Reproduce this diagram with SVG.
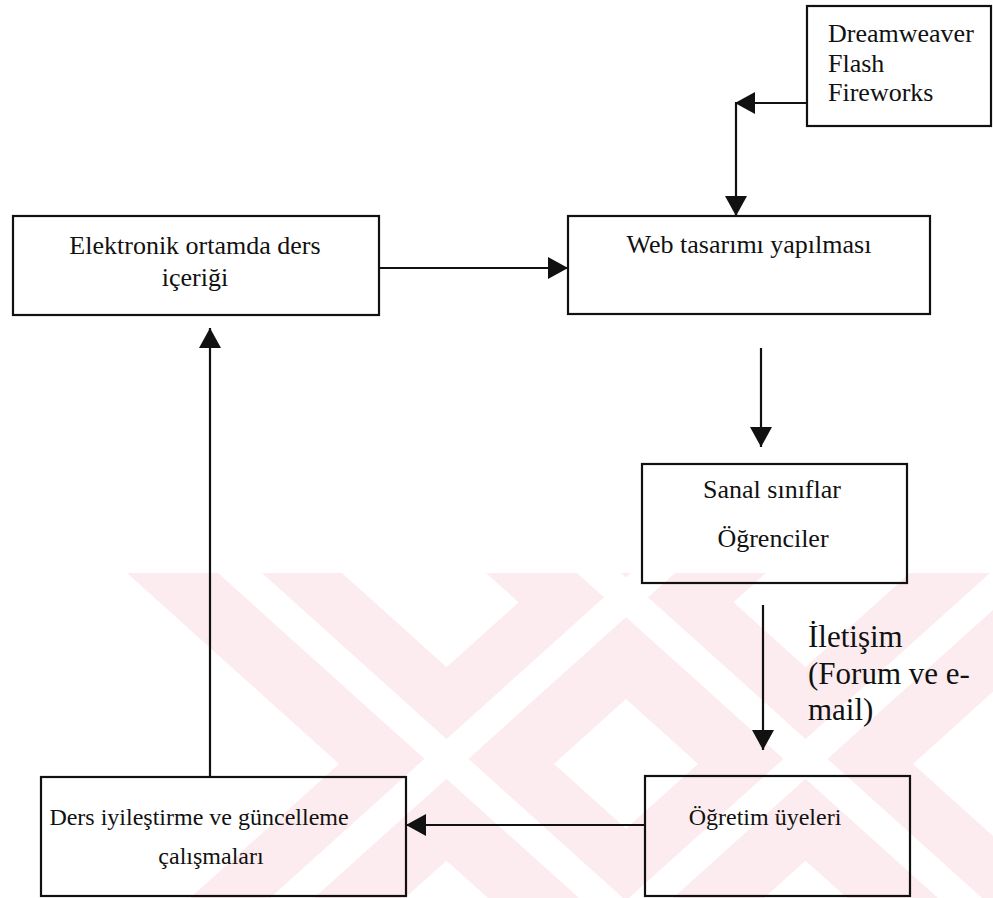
<svg xmlns="http://www.w3.org/2000/svg" width="993" height="898" viewBox="0 0 993 898">
<style>
.box{fill:none;stroke:#111;stroke-width:2.2}
.ln{fill:none;stroke:#111;stroke-width:2.2}
.t{font-family:"Liberation Serif","Times New Roman",serif;fill:#111}
.s26{font-size:26px}
.s24{font-size:24px}
.s31{font-size:31px}
.wm{fill:#fdecef}
.ws{fill:#ffffff}
</style>
<defs>
<marker id="ah" markerUnits="userSpaceOnUse" markerWidth="21" markerHeight="22" refX="20" refY="11" orient="auto">
<path d="M0,0 L20,11 L0,22 Z" fill="#111"/>
</marker>
<clipPath id="wmclip"><rect x="0" y="573" width="993" height="325"/></clipPath>
</defs>
<rect width="993" height="898" fill="#fff"/>
<g id="watermark" clip-path="url(#wmclip)">
<polygon class="wm" points="127,573 342,573 703,898 488,898"/>
<polygon class="wm" points="551,573 766,573 405,898 190,898"/>
<polygon class="wm" points="486,573 701,573 1062,898 847,898"/>
<polygon class="wm" points="910,573 1125,573 764,898 549,898"/>
<polygon class="ws" points="218,573 262,573 623,898 579,898"/>
<polygon class="ws" points="675,573 631,573 270,898 314,898"/>
<polygon class="ws" points="577,573 621,573 982,898 938,898"/>
<polygon class="ws" points="1034,573 990,573 629,898 673,898"/>
</g>
<g id="connectors">
<path class="ln" d="M807,103 L735,103" marker-end="url(#ah)"/>
<path class="ln" d="M736,103 L736,216" marker-end="url(#ah)"/>
<path class="ln" d="M379,268 L568,268" marker-end="url(#ah)"/>
<path class="ln" d="M761,348 L761,447" marker-end="url(#ah)"/>
<path class="ln" d="M763,605 L763,750" marker-end="url(#ah)"/>
<path class="ln" d="M645,825 L406,825" marker-end="url(#ah)"/>
<path class="ln" d="M210,777 L210,328" marker-end="url(#ah)"/>
</g>
<g id="tools">
<rect class="box" x="807" y="6" width="184" height="120"/>
<text class="t s26" x="828" y="42">Dreamweaver</text>
<text class="t s26" x="828" y="72">Flash</text>
<text class="t s26" x="828" y="101">Fireworks</text>
</g>
<g id="content">
<rect class="box" x="13" y="216" width="366" height="99"/>
<text class="t s26" x="195" y="254" text-anchor="middle">Elektronik ortamda ders</text>
<text class="t s26" x="195" y="286" text-anchor="middle">içeriği</text>
</g>
<g id="webdesign">
<rect class="box" x="568" y="216" width="362" height="98"/>
<text class="t s26" x="749" y="253" text-anchor="middle">Web tasarımı yapılması</text>
</g>
<g id="virtualclass">
<rect class="box" x="642" y="464" width="265" height="119"/>
<text class="t s26" x="772" y="498" text-anchor="middle">Sanal sınıflar</text>
<text class="t s26" x="773" y="547" text-anchor="middle">Öğrenciler</text>
</g>
<g id="commlabel">
<text class="t s31" x="808" y="647">İletişim</text>
<text class="t s31" x="808" y="684">(Forum ve e-</text>
<text class="t s31" x="808" y="720">mail)</text>
</g>
<g id="faculty">
<rect class="box" x="645" y="776" width="265" height="120"/>
<text class="t s24" x="765" y="825" text-anchor="middle">Öğretim üyeleri</text>
</g>
<g id="improvement">
<rect class="box" x="41" y="777" width="365" height="119"/>
<text class="t s24" x="199" y="825" text-anchor="middle">Ders iyileştirme ve güncelleme</text>
<text class="t s24" x="211" y="864" text-anchor="middle">çalışmaları</text>
</g>
</svg>
